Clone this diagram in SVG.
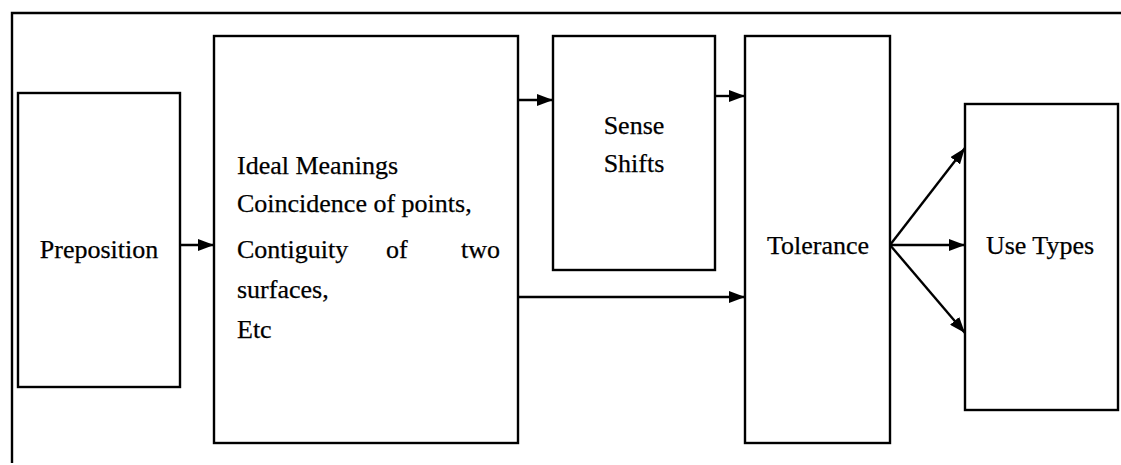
<svg xmlns="http://www.w3.org/2000/svg" width="1121" height="465" viewBox="0 0 1121 465">
<style>
.box{fill:#fff;stroke:#000;stroke-width:2.4}
.t{font-family:"Liberation Serif","Times New Roman",serif;font-size:26px;fill:#000;stroke:#000;stroke-width:0.25}
.c{stroke:#000;stroke-width:2.4;fill:none}
</style>
<defs>
<marker id="ah" viewBox="0 0 16 12" refX="16" refY="6" markerWidth="16" markerHeight="12" markerUnits="userSpaceOnUse" orient="auto">
<path d="M0,0 L16,6 L0,12 Z" fill="#000"/>
</marker>
</defs>
<rect width="1121" height="465" fill="#fff"/>
<g id="frame">
<path class="c" d="M12,463 L12,13 L1121,13"/>
</g>
<g id="preposition">
<rect class="box" x="18" y="93" width="162" height="294"/>
<text class="t" x="99" y="258" text-anchor="middle">Preposition</text>
</g>
<g id="ideal">
<rect class="box" x="214" y="36" width="304" height="407"/>
<text class="t" x="237" y="174">Ideal Meanings</text>
<text class="t" x="237" y="212">Coincidence of points,</text>
<text class="t" x="237" y="258">Contiguity</text>
<text class="t" x="386" y="258">of</text>
<text class="t" x="500" y="258" text-anchor="end">two</text>
<text class="t" x="237" y="298">surfaces,</text>
<text class="t" x="237" y="338">Etc</text>
</g>
<g id="sense">
<rect class="box" x="553" y="36" width="162" height="234"/>
<text class="t" x="634" y="134" text-anchor="middle">Sense</text>
<text class="t" x="634" y="172" text-anchor="middle">Shifts</text>
</g>
<g id="tolerance">
<rect class="box" x="745" y="36" width="145" height="407"/>
<text class="t" x="818" y="254" text-anchor="middle">Tolerance</text>
</g>
<g id="usetypes">
<rect class="box" x="965" y="104" width="153" height="306"/>
<text class="t" x="1040" y="254" text-anchor="middle">Use Types</text>
</g>
<g id="connectors">
<line class="c" x1="180" y1="245" x2="214" y2="245" marker-end="url(#ah)"/>
<line class="c" x1="518" y1="100" x2="553" y2="100" marker-end="url(#ah)"/>
<line class="c" x1="715" y1="96" x2="745" y2="96" marker-end="url(#ah)"/>
<line class="c" x1="518" y1="297" x2="745" y2="297" marker-end="url(#ah)"/>
<line class="c" x1="890" y1="245" x2="965" y2="148" marker-end="url(#ah)"/>
<line class="c" x1="890" y1="245" x2="965" y2="245" marker-end="url(#ah)"/>
<line class="c" x1="890" y1="245" x2="965" y2="333" marker-end="url(#ah)"/>
</g>
</svg>
